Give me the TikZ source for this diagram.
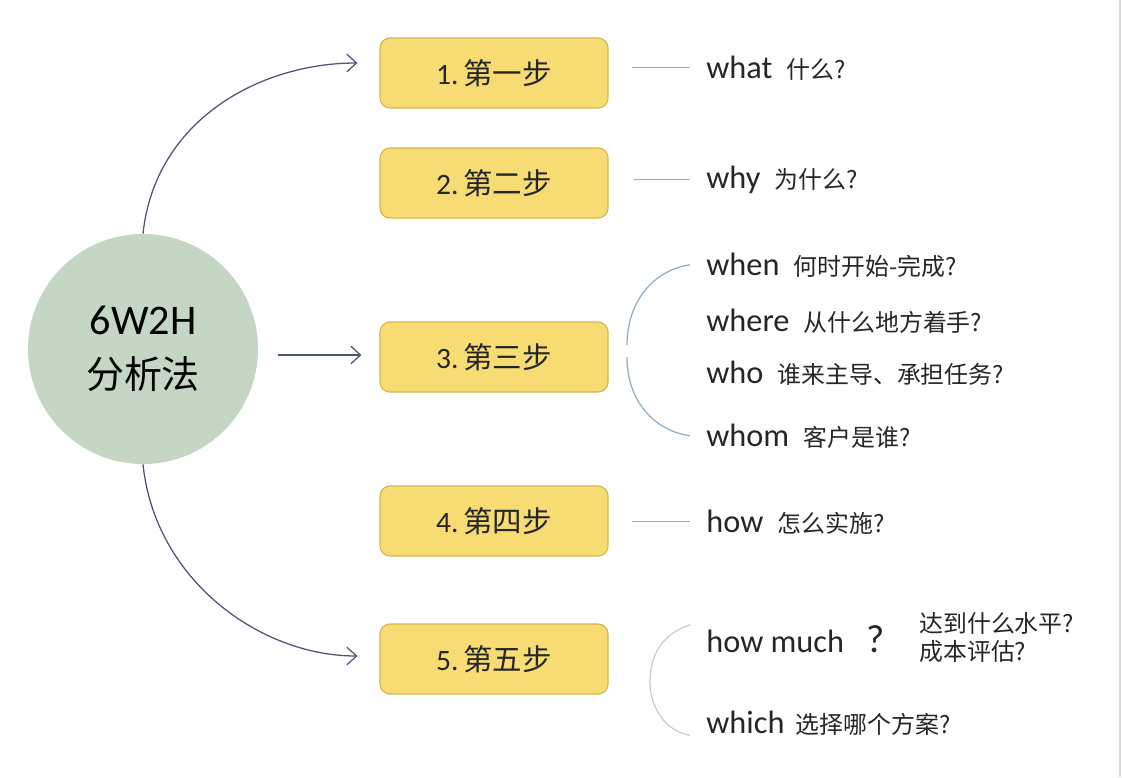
\documentclass[tikz,border=0pt]{standalone}
\usepackage{fontspec}
\setmainfont{Carlito}
\newfontfamily\cjk{Noto Sans CJK SC}
\usetikzlibrary{arrows.meta,calc}
\definecolor{hubgreen}{HTML}{C5D6C4}
\definecolor{stepfill}{HTML}{F7DC74}
\definecolor{stepline}{HTML}{D6B64C}
\definecolor{flowcol}{HTML}{4B5670}
\definecolor{twigcol}{HTML}{92AEC4}
\definecolor{bracecol}{HTML}{C9CDD1}
\definecolor{inkcol}{HTML}{262626}
\newcommand\zh[1]{{\cjk\fontsize{17}{20}\selectfont #1}}
\newcommand\gap{\hspace{10pt}}

\begin{document}
\begin{tikzpicture}[x=0.025cm,y=-0.025cm,
    hubnode/.style={circle,fill=hubgreen,minimum size=5.75cm,inner sep=0,align=center,text=black},
    stepbox/.style={rectangle,rounded corners=2.5mm,fill=stepfill,draw=stepline,line width=0.8pt,
        minimum width=5.7cm,minimum height=1.75cm,text=inkcol,font=\fontsize{21}{24}\selectfont},
    ask/.style={anchor=base west,inner xsep=11.4pt,inner ysep=0pt,text=inkcol,font=\fontsize{23}{27}\selectfont},
    flow/.style={draw=flowcol,line width=0.9pt,-{Straight Barb[length=2.4mm,width=4.4mm]}},
    twig/.style={draw=twigcol,line width=0.9pt},
    ]
    \useasboundingbox (0,0) rectangle (1122,777);
    \draw[bracecol!70,line width=1.2pt] (1120,0) -- (1120,777);

    \node[hubnode,font=\fontsize{30}{34}\selectfont] (hub) at (143,349) {6W2H\\[4pt]{\cjk\fontsize{27}{34}\selectfont 分析法}};

    \node[stepbox] (s1) at (494,73) {1.\,{\cjk 第一步}};
    \node[stepbox] (s2) at (494,183) {2.\,{\cjk 第二步}};
    \node[stepbox] (s3) at (494,357) {3.\,{\cjk 第三步}};
    \node[stepbox] (s4) at (494,521) {4.\,{\cjk 第四步}};
    \node[stepbox] (s5) at (494,659) {5.\,{\cjk 第五步}};

    \node[ask] (what) at (690,78) {what\gap\zh{什么?}};
    \node[ask] (why) at (690,188) {why\gap\zh{为什么?}};
    \node[ask] (when) at (690,275) {when\gap\zh{何时开始-完成?}};
    \node[ask] (where) at (690,331) {where\gap\zh{从什么地方着手?}};
    \node[ask] (who) at (690,383) {who\gap\zh{谁来主导、承担任务?}};
    \node[ask] (whom) at (690,446) {whom\gap\zh{客户是谁?}};
    \node[ask] (how) at (690,532) {how\gap\zh{怎么实施?}};
    \node[ask] (much) at (690,652) {how much\hspace{16pt}{\fontsize{28}{30}\selectfont ?}};
    \node[anchor=north west,inner sep=0,align=left,text=inkcol,font=\cjk\fontsize{17}{20}\selectfont] (muchnote) at (919,612) {达到什么水平?\\成本评估?};
    \node[ask] (which) at (690,733) {which\hspace{8pt}\zh{选择哪个方案?}};

    \coordinate (b3top) at (627,345);
    \coordinate (b3bot) at (627,357);
    \coordinate (b5) at (650,682);

    % hub to steps
    \draw[flow] (hub.north) .. controls (155,120) and (260,63) .. ($(s1.west)+(-22,-10)$);
    \draw[flow] ($(hub.east |- s3.west)+(20,-2)$) -- ($(s3.west)+(-18,-2)$);
    \draw[flow] (hub.south) .. controls (155,580) and (260,656) .. ($(s5.west)+(-22,-3)$);

    % steps to questions
    \draw[twig] ($(what.west)+(-58,0)$) -- (what.west);
    \draw[twig] ($(why.west)+(-56,0)$) -- (why.west);
    \draw[twig] ($(how.west)+(-58,0)$) -- (how.west);
    \draw[twig] (when.west) .. controls +(-35,5) and +(0,-45) .. (b3top);
    \draw[twig] (b3bot) .. controls +(0,45) and +(-35,-5) .. (whom.west);
    \draw[bracecol,line width=0.9pt] (much.north west) .. controls +(-30,10) and +(0,-25) .. (b5)
        .. controls +(0,25) and +(-25,-4) .. (which.south west);
\end{tikzpicture}
\end{document}
